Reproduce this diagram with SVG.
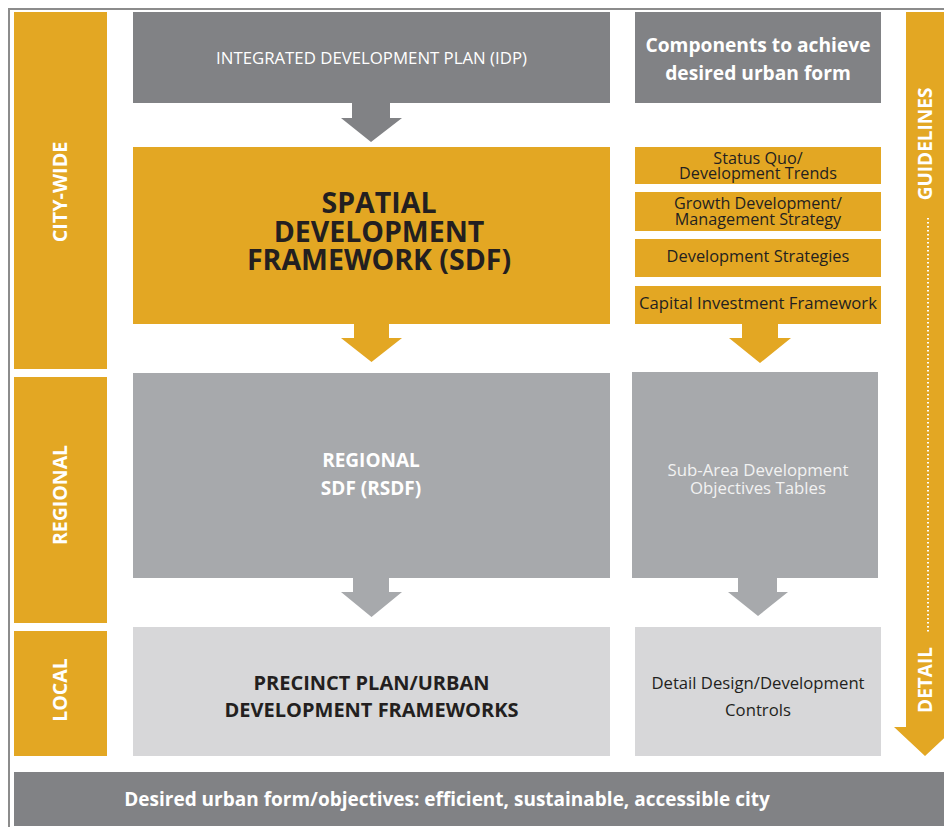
<svg xmlns="http://www.w3.org/2000/svg" width="944" height="827" viewBox="0 0 944 827">
<style>
.or{fill:#E3A723}
.dg{fill:#818285}
.mg{fill:#A7A9AC}
.lg{fill:#D7D7D9}
text{font-family:"Open Sans","Noto Sans",sans-serif;text-anchor:middle}
.wb{fill:#FFFFFF;font-weight:bold}
.w{fill:#FFFFFF}
.d{fill:#231F20}
.db{fill:#231F20;font-weight:bold}
</style>
<rect width="944" height="827" fill="#FFFFFF"/>
<path d="M9,827 V9 H944" fill="none" stroke="#8C8C8C" stroke-width="2"/>

<g id="side-citywide">
<rect class="or" x="14" y="12" width="93" height="357"/>
<text class="wb" font-size="19.8" transform="translate(67,192) rotate(-90)">CITY-WIDE</text>
</g>
<g id="side-regional">
<rect class="or" x="14" y="377" width="93" height="246"/>
<text class="wb" font-size="19.5" transform="translate(67,495) rotate(-90)">REGIONAL</text>
</g>
<g id="side-local">
<rect class="or" x="14" y="631" width="93" height="125"/>
<text class="wb" font-size="19.5" transform="translate(67,690) rotate(-90)">LOCAL</text>
</g>

<g id="idp">
<rect class="dg" x="133" y="12" width="477" height="91"/>
<text class="w" font-size="16.8" x="371.5" y="64">INTEGRATED DEVELOPMENT PLAN (IDP)</text>
</g>
<g id="sdf">
<rect class="or" x="133" y="147" width="477" height="177"/>
<text class="db" font-size="28.5" x="379" y="213">SPATIAL</text>
<text class="db" font-size="28.5" x="379" y="242">DEVELOPMENT</text>
<text class="db" font-size="28.5" x="379" y="270">FRAMEWORK (SDF)</text>
</g>
<g id="rsdf">
<rect class="mg" x="133" y="373" width="477" height="205"/>
<text class="wb" font-size="19" x="371" y="467">REGIONAL</text>
<text class="wb" font-size="19" x="371" y="495">SDF (RSDF)</text>
</g>
<g id="precinct">
<rect class="lg" x="133" y="627" width="477" height="129"/>
<text class="db" font-size="20" x="371.5" y="690">PRECINCT PLAN/URBAN</text>
<text class="db" font-size="20" x="371.5" y="717">DEVELOPMENT FRAMEWORKS</text>
</g>

<g id="components">
<rect class="dg" x="635" y="12" width="246" height="91"/>
<text class="wb" font-size="19.2" x="758" y="52">Components to achieve</text>
<text class="wb" font-size="19.2" x="758" y="80">desired urban form</text>
</g>
<g id="status-quo">
<rect class="or" x="635" y="147" width="246" height="37"/>
<text class="d" font-size="16.2" x="758" y="164">Status Quo/</text>
<text class="d" font-size="16.2" x="758" y="179">Development Trends</text>
</g>
<g id="growth">
<rect class="or" x="635" y="192" width="246" height="39"/>
<text class="d" font-size="16.2" x="758" y="209">Growth Development/</text>
<text class="d" font-size="16.2" x="758" y="225">Management Strategy</text>
</g>
<g id="dev-strategies">
<rect class="or" x="635" y="239" width="246" height="38"/>
<text class="d" font-size="16.4" x="758" y="262">Development Strategies</text>
</g>
<g id="capital">
<rect class="or" x="635" y="286" width="246" height="38"/>
<text class="d" font-size="16.7" x="758" y="309">Capital Investment Framework</text>
</g>
<g id="sub-area">
<rect class="mg" x="632" y="372" width="246" height="206"/>
<text fill="#F2F2F2" font-size="16.8" x="758" y="476">Sub-Area Development</text>
<text fill="#F2F2F2" font-size="16.8" x="758" y="494">Objectives Tables</text>
</g>
<g id="detail-design">
<rect class="lg" x="635" y="627" width="246" height="129"/>
<text class="d" font-size="16.7" x="758" y="689">Detail Design/Development</text>
<text class="d" font-size="16.7" x="758" y="716">Controls</text>
</g>

<g id="guidelines-detail">
<path class="or" d="M906,12 H944 V727 H956 L925,756 L894,727 H906 Z"/>
<line x1="928" y1="218" x2="928" y2="634" stroke="#FFFFFF" stroke-width="2" stroke-dasharray="1.5,2.5"/>
<text class="wb" font-size="19" transform="translate(932,144) rotate(-90)">GUIDELINES</text>
<text class="wb" font-size="19" transform="translate(932,680) rotate(-90)">DETAIL</text>
</g>

<g id="outcome">
<rect class="dg" x="14" y="772" width="930" height="54"/>
<text class="wb" font-size="19" x="447" y="806">Desired urban form/objectives: efficient, sustainable, accessible city</text>
</g>

<g id="connectors">
<path fill="#818285" d="M352,103 H390 V118 H402 L371,142 L341,118 H352 Z"/>
<path class="or" d="M354,324 H389 V338 H402 L371.5,362 L341,338 H354 Z"/>
<path class="or" d="M742,324 H778 V338 H791 L760,363 L729,338 H742 Z"/>
<path class="mg" d="M353,578 H389 V592 H402 L371.5,617 L341,592 H353 Z"/>
<path class="mg" d="M738,578 H777 V592 H788 L758,616 L728,592 H738 Z"/>
</g>
</svg>
